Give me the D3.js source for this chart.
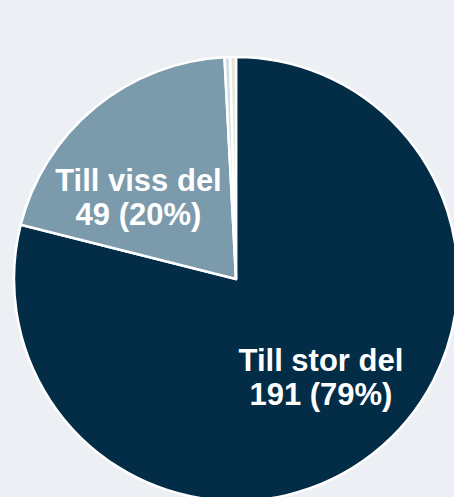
<html lang="sv">
	<head>
		<title>Pie</title>
		<script src="https://d3js.org/d3.v7.min.js" charset="utf-8"></script>
		<style type="text/css">
			body{
				margin: 0;
				background: #ecf0f4;
				font-family: "Liberation Sans", Arial, sans-serif;
			}
			.label{
				fill: white;
				font-weight: bold;
				font-size: 31px;
			}
		</style>
	</head>
	<body>
		<div class="main"></div>
		<script>
			// data
			var categories = ["Till stor del", "Till viss del", "Inte alls", "Vet ej"]
			var counts = [191, 49, 1, 1]
			var percents = ["79%", "20%", "0%", "0%"]
			var showLabel = [true, true, false, false]

			var width = 454
			var height = 497
			var cx = 236, cy = 279
			var radius = 222

			var colors = ["#032c46", "#7b9aab", "#d3dde5", "#e9e4da"]
			// small nudges so the labels sit where the original put them
			var labelShift = [[5, 0], [-15, 23], [0, 0], [0, 0]]

			var svg = d3.select(".main")
				.append("svg")
				.attr("width", width)
				.attr("height", height)

			var g = svg.append("g")
				.attr("transform", "translate(" + cx + "," + cy + ")")

			var pie = d3.pie()
				.sort(null)
				.value(function(d){ return d })

			var arc = d3.arc()
				.innerRadius(0)
				.outerRadius(radius)

			var labelArc = d3.arc()
				.innerRadius(130)
				.outerRadius(130)

			var arcs = pie(counts)

			g.selectAll("path")
				.data(arcs)
				.enter()
				.append("path")
				.attr("d", arc)
				.attr("fill", function(d, i){ return colors[i] })
				.attr("stroke", "white")
				.attr("stroke-width", 2.5)
				.attr("stroke-linejoin", "round")

			var labels = g.selectAll("text")
				.data(arcs.filter(function(d, i){ return showLabel[i] }))
				.enter()
				.append("text")
				.attr("class", "label")
				.attr("text-anchor", "middle")
				.attr("transform", function(d){
					var c = labelArc.centroid(d)
					var s = labelShift[d.index]
					return "translate(" + (c[0] + s[0]) + "," + (c[1] + s[1]) + ")"
				})

			labels.append("tspan")
				.attr("x", 0)
				.attr("dy", "-0.35em")
				.text(function(d){ return categories[d.index] })

			labels.append("tspan")
				.attr("x", 0)
				.attr("dy", "1.12em")
				.text(function(d){ return counts[d.index] + " (" + percents[d.index] + ")" })
		</script>
	</body>
</html>
